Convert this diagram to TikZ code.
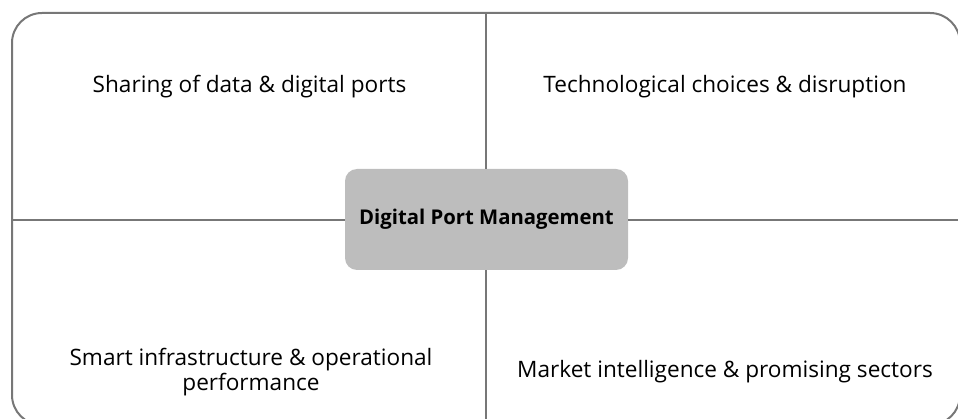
\documentclass[tikz,border=0pt]{standalone}
\usepackage{fontspec}
\setmainfont{Open Sans}
\usetikzlibrary{positioning}
\definecolor{frame}{HTML}{777777}
\definecolor{hubgrey}{HTML}{BDBDBD}
\begin{document}
\begin{tikzpicture}[x=1pt, y=-1pt]
	\tikzstyle{edge} = [ draw=frame, line width=2pt ];
	\tikzstyle{hub} = [ fill=hubgrey, rounded corners=12pt, minimum width=283pt, minimum height=101pt, font={\fontsize{20.3}{24}\selectfont\bfseries} ];
	\tikzstyle{topic} = [ align=center, font={\fontsize{22.6}{25}\selectfont} ];

	\useasboundingbox (0,0) rectangle (958,419);

	% frame
	\draw[edge, rounded corners=30pt] (12,13) rectangle (960,425);
	\coordinate (top) at (486,13);
	\coordinate (bottom) at (486,425);
	\coordinate (left) at (12,220);
	\coordinate (right) at (960,220);

	% centre
	\node[hub] (hub) at (486.5,219.5) {Digital Port Management};

	\draw[edge] (top) -- (hub.north -| top);
	\draw[edge] (hub.south -| bottom) -- (bottom);
	\draw[edge] (left) -- (hub.west |- left);
	\draw[edge] (hub.east |- right) -- (right);

	% quadrants
	\node[topic] (share) at (249.5,87) {Sharing of data \& digital ports};
	\node[topic] (tech) at (725,87) {Technological choices \& disruption};
	\node[topic] (smart) at (251,372) {Smart infrastructure \& operational\\performance};
	\node[topic] (market) at (725,372) {Market intelligence \& promising sectors};
\end{tikzpicture}
\end{document}
